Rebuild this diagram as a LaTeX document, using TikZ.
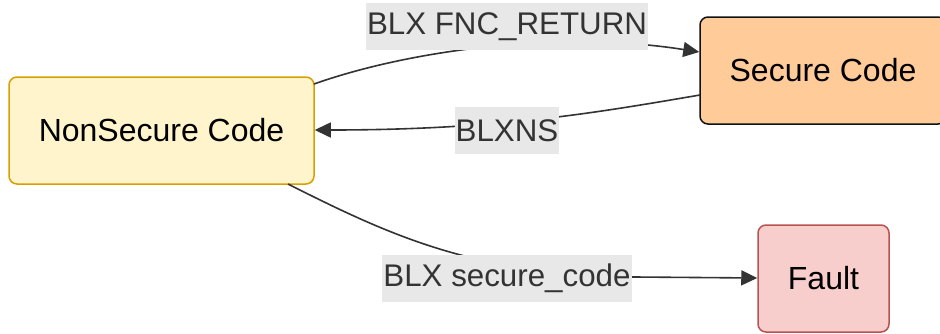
\documentclass[tikz,border=0pt]{standalone}
\usepackage{fontspec}
\setmainfont{Liberation Sans}
\usetikzlibrary{arrows.meta}
\definecolor{nsfill}{HTML}{FFF4CC}
\definecolor{nsdraw}{HTML}{D99F00}
\definecolor{secfill}{HTML}{FFCC99}
\definecolor{secdraw}{HTML}{111111}
\definecolor{faultfill}{HTML}{F8CECC}
\definecolor{faultdraw}{HTML}{B85450}
\definecolor{edgecol}{HTML}{333333}
\definecolor{lblbg}{HTML}{E8E8E8}
\tikzset{
  box/.style={draw, rounded corners=8pt, line width=1.5pt, minimum height=107pt, inner sep=0pt,
    font=\fontsize{32}{38}\selectfont, text=black},
  lbl/.style={fill=lblbg, text=edgecol, inner xsep=1pt, inner ysep=0pt, minimum height=47pt,
    font=\fontsize{31.3}{38}\selectfont},
  conn/.style={draw=edgecol, line width=1.6pt, -{Triangle[length=16pt,width=15pt]}},
  plain/.style={draw=edgecol, line width=1.6pt}
}
\begin{document}
\begin{tikzpicture}[x=1pt,y=-1pt]
\useasboundingbox (0,0) rectangle (940,333);
\clip (0,0) rectangle (940,333);
\node[box, fill=nsfill, draw=nsdraw, minimum width=305pt] (ns) at (161.5,130.5) {NonSecure Code};
\node[box, fill=secfill, draw=secdraw, minimum width=246pt] (sec) at (823,70.5) {Secure Code};
\node[box, fill=faultfill, draw=faultdraw, minimum width=131pt] (fault) at (823.5,278.5) {Fault};
% connectors
\coordinate (a1) at (314,84);
\coordinate (b1) at (700,95);
\coordinate (c1) at (288,184);
\coordinate (c2) at (635,277);
\draw[conn] (a1) .. controls (410,50) and (560,30) .. (sec.west |- 0,52);
\draw[conn] (b1) .. controls (600,112) and (500,130) .. (ns.east |- 0,130);
\draw[plain] (c1) .. controls (395,238) and (475,274) .. (c2);
\draw[conn] (c2) -- (fault.west |- 0,278);
% labels
\node[lbl] (l1) at (507,26.5) {BLX FNC\_RETURN};
\node[lbl] (l2) at (507,130.5) {BLXNS};
\node[lbl] (l3) at (507,278) {BLX secure\_code};
\end{tikzpicture}
\end{document}
